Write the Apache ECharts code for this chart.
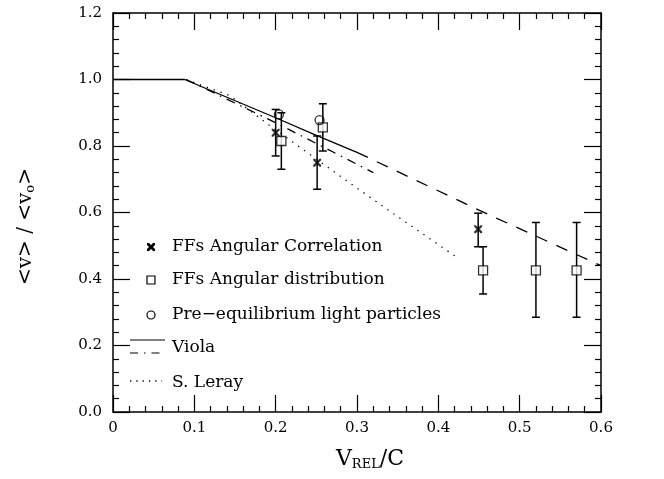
<!DOCTYPE html>
<html>
<head>
<meta charset="utf-8">
<script src="https://cdn.jsdelivr.net/npm/echarts@6/dist/echarts.min.js"></script>
<style>
  html, body { margin: 0; padding: 0; background: #fff; }
  #chart { width: 664px; height: 479px; }
</style>
</head>
<body>
<div id="chart"></div>
<script>
  // data
  var corrX = [0.200, 0.251, 0.449]
  var corrY = [0.84, 0.75, 0.55]
  var corrLow = [0.77, 0.67, 0.497]
  var corrHigh = [0.91, 0.83, 0.598]

  var distX = [0.207, 0.258, 0.455, 0.520, 0.570]
  var distY = [0.815, 0.856, 0.426, 0.426, 0.426]
  var distLow = [0.73, 0.785, 0.355, 0.285, 0.285]
  var distHigh = [0.90, 0.927, 0.497, 0.57, 0.57]

  var preX = [0.204, 0.254]
  var preY = [0.895, 0.878]

  var violaSolidX = [0, 0.088, 0.2, 0.25, 0.3]
  var violaSolidY = [1.0, 1.0, 0.885, 0.832, 0.781]
  var violaDashX = [0.3, 0.45, 0.6]
  var violaDashY = [0.781, 0.607, 0.44]
  var violaDashDotX = [0.09, 0.2, 0.32]
  var violaDashDotY = [1.0, 0.87, 0.72]
  var lerayX = [0.09, 0.144, 0.193, 0.284, 0.345, 0.42]
  var lerayY = [1.0, 0.951, 0.861, 0.701, 0.596, 0.47]

  var legendNames = ['FFs Angular Correlation', 'FFs Angular distribution', 'Pre−equilibrium light particles', 'Viola', 'S. Leray']

  var font = 'DejaVu Serif'
  var crossPath = 'path://M0,0L2,0L5,3L8,0L10,0L10,2L7,5L10,8L10,10L8,10L5,7L2,10L0,10L0,8L3,5L0,2Z'

  function zip (xs, ys) {
    return xs.map(function (x, i) { return [x, ys[i]] })
  }
  function bars (xs, lo, hi) {
    return xs.map(function (x, i) { return [x, lo[i], hi[i]] })
  }

  function errorBar (params, api) {
    var x = api.value(0)
    var lo = api.coord([x, api.value(1)])
    var hi = api.coord([x, api.value(2)])
    var st = { stroke: '#000', lineWidth: 1.5 }
    return {
      type: 'group',
      children: [
        { type: 'line', shape: { x1: lo[0], y1: lo[1], x2: hi[0], y2: hi[1] }, style: st },
        { type: 'line', shape: { x1: lo[0] - 4, y1: lo[1], x2: lo[0] + 4, y2: lo[1] }, style: st },
        { type: 'line', shape: { x1: hi[0] - 4, y1: hi[1], x2: hi[0] + 4, y2: hi[1] }, style: st }
      ]
    }
  }

  function lineSeries (data, type, dash) {
    return {
      type: 'line',
      data: data,
      symbol: 'none',
      silent: true,
      lineStyle: { color: '#000', width: 1.3, type: dash || type }
    }
  }

  var tickAxis = {
    min: 0,
    axisLine: { show: true, onZero: false, lineStyle: { color: '#000', width: 1.5 } },
    axisTick: { show: true, inside: true, length: 17, lineStyle: { color: '#000', width: 1.2 } },
    minorTick: { show: true, splitNumber: 5, length: 6, lineStyle: { color: '#000', width: 1.2 } },
    splitLine: { show: false },
    minorSplitLine: { show: false }
  }

  // legend rows: centre y of each entry
  var rowY = [247, 280, 315, 348, 383]
  var legendText = legendNames.map(function (name, i) {
    return {
      type: 'text',
      x: 172,
      y: rowY[i],
      style: { text: name, font: '17px ' + font, fill: '#000', verticalAlign: 'middle' }
    }
  })

  // small filled x, centred on (151, 247)
  var crossKey = [[-4, -4], [-2, -4], [0, -2], [2, -4], [4, -4], [4, -2], [2, 0], [4, 2], [4, 4], [2, 4], [0, 2], [-2, 4], [-4, 4], [-4, 2], [-2, 0], [-4, -2]]
    .map(function (p) { return [151 + p[0], 247 + p[1]] })

  var myChart = echarts.init(document.getElementById('chart'))
  myChart.setOption({
    backgroundColor: '#fff',
    animation: false,
    grid: { left: 113, right: 63, top: 13, bottom: 67 },
    xAxis: [
      Object.assign({}, tickAxis, {
        type: 'value', position: 'bottom', max: 0.6, interval: 0.1,
        axisLabel: {
          color: '#000', fontFamily: font, fontSize: 15, margin: 9,
          formatter: function (v) { return v === 0 ? '0' : v.toFixed(1) }
        },
        name: '{v|V}{s|REL}{v|/C}',
        nameLocation: 'middle',
        nameGap: 36,
        nameTextStyle: {
          padding: [0, 0, 0, 26],
          rich: {
            v: { fontFamily: font, fontSize: 22, color: '#000' },
            s: { fontFamily: font, fontSize: 13, color: '#000', verticalAlign: 'bottom', padding: [10, 0, 0, 0] }
          }
        }
      }),
      Object.assign({}, tickAxis, {
        type: 'value', position: 'top', max: 0.6, interval: 0.1,
        axisLabel: { show: false }
      })
    ],
    yAxis: [
      Object.assign({}, tickAxis, {
        type: 'value', position: 'left', max: 1.2, interval: 0.2,
        axisLabel: {
          color: '#000', fontFamily: font, fontSize: 15, margin: 11,
          formatter: function (v) { return v.toFixed(1) }
        },
        name: '{v|<v> / <v}{s|o}{v|>}',
        nameLocation: 'middle',
        nameRotate: 90,
        nameGap: 76,
        nameTextStyle: {
          padding: [0, 28, 0, 0],
          rich: {
            v: { fontFamily: font, fontSize: 20, color: '#000' },
            s: { fontFamily: font, fontSize: 13, color: '#000', verticalAlign: 'bottom', padding: [10, 0, 0, 0] }
          }
        }
      }),
      Object.assign({}, tickAxis, {
        type: 'value', position: 'right', max: 1.2, interval: 0.2,
        axisLabel: { show: false }
      })
    ],
    series: [
      lineSeries(zip(violaSolidX, violaSolidY), 'solid'),
      lineSeries(zip(violaDashX, violaDashY), 'dashed', [12, 10]),
      lineSeries(zip(violaDashDotX, violaDashDotY), 'dashed', [9, 6, 1.5, 6]),
      lineSeries(zip(lerayX, lerayY), 'dotted', [1.3, 6]),
      {
        type: 'custom',
        renderItem: errorBar,
        data: bars(corrX, corrLow, corrHigh),
        z: 3
      },
      {
        type: 'custom',
        renderItem: errorBar,
        data: bars(distX, distLow, distHigh),
        z: 3
      },
      {
        type: 'scatter',
        data: zip(corrX, corrY),
        symbol: crossPath,
        symbolSize: 8,
        itemStyle: { color: '#000' },
        z: 4
      },
      {
        type: 'scatter',
        data: zip(distX, distY),
        symbol: 'rect',
        symbolSize: 9,
        itemStyle: { color: '#fff', borderColor: '#000', borderWidth: 1.3 },
        z: 4
      },
      {
        type: 'scatter',
        data: zip(preX, preY),
        symbol: 'circle',
        symbolSize: 9,
        itemStyle: { color: 'rgba(255,255,255,0)', borderColor: '#000', borderWidth: 1.3 },
        z: 4
      }
    ],
    graphic: [
      // legend keys
      { type: 'polygon', shape: { points: crossKey }, style: { fill: '#000' } },
      { type: 'rect', shape: { x: 147, y: 276, width: 8, height: 8 }, style: { fill: '#fff', stroke: '#000', lineWidth: 1.2 } },
      { type: 'circle', shape: { cx: 151, cy: 315, r: 4 }, style: { fill: '#fff', stroke: '#000', lineWidth: 1.2 } },
      { type: 'line', shape: { x1: 130, y1: 340, x2: 165, y2: 340 }, style: { stroke: '#000', lineWidth: 1.2 } },
      { type: 'line', shape: { x1: 130, y1: 353, x2: 165, y2: 353 }, style: { stroke: '#000', lineWidth: 1.2, lineDash: [8, 6, 1.5, 6] } },
      { type: 'line', shape: { x1: 130, y1: 381, x2: 162, y2: 381 }, style: { stroke: '#000', lineWidth: 1.3, lineDash: [1.3, 5] } }
    ].concat(legendText)
  })
</script>
</body>
</html>
